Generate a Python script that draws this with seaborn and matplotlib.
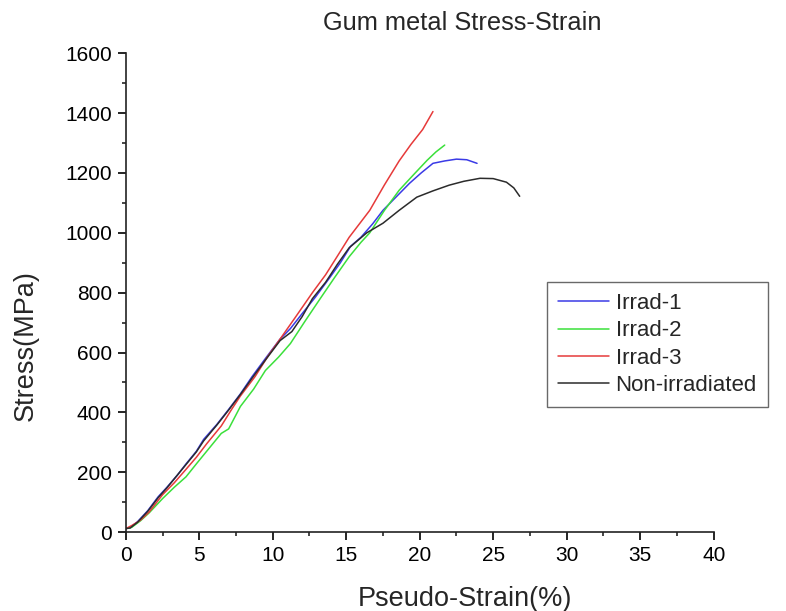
import pandas as pd
import matplotlib.pyplot as plt
import seaborn as sns
from matplotlib.ticker import MultipleLocator

# values
irrad1_strain = [0, 0.3, 0.8, 1.5, 2.2, 2.8, 3.5, 4.1, 4.8, 5.3, 6.2, 7.0, 7.8, 8.6, 9.5, 10.5, 11.2, 12.0,
                 12.9, 13.8, 14.6, 15.3, 16.0, 16.8, 17.5, 18.4, 19.3, 20.1, 20.9, 21.7, 22.5, 23.2, 23.9]
irrad1_stress = [12, 15, 35, 72, 118, 150, 190, 228, 270, 310, 360, 410, 462, 520, 580, 645, 680, 730,
                 785, 845, 900, 955, 985, 1030, 1075, 1120, 1165, 1200, 1232, 1240, 1246, 1244, 1232]

irrad2_strain = [0, 0.4, 1.0, 1.6, 2.5, 3.3, 4.1, 4.8, 5.5, 6.5, 7.0, 7.8, 8.7, 9.5, 10.4, 11.2, 12.2,
                 13.2, 14.2, 15.2, 16.0, 16.6, 17.6, 18.6, 19.6, 20.5, 21.1, 21.7]
irrad2_stress = [12, 16, 38, 65, 112, 150, 185, 228, 270, 330, 345, 420, 478, 540, 585, 630, 705,
                 778, 850, 920, 968, 1000, 1075, 1142, 1195, 1242, 1270, 1293]

irrad3_strain = [0, 0.4, 1.0, 1.6, 2.5, 3.3, 4.1, 4.8, 5.5, 6.5, 7.2, 7.8, 8.8, 9.7, 10.5, 11.5, 12.7,
                 13.6, 14.5, 15.2, 15.9, 16.6, 17.6, 18.6, 19.4, 20.2, 20.9]
irrad3_stress = [12, 22, 40, 68, 125, 165, 210, 250, 295, 355, 410, 455, 520, 590, 645, 715, 800,
                 860, 930, 985, 1030, 1075, 1160, 1240, 1295, 1345, 1405]

nonirr_strain = [0, 0.3, 0.8, 1.5, 2.2, 2.8, 3.5, 4.1, 4.8, 5.3, 6.2, 7.0, 7.8, 8.6, 9.5, 10.5, 11.3,
                 12.0, 12.7, 13.6, 14.4, 15.2, 15.8, 16.4, 17.5, 18.6, 19.8, 20.9, 22.0, 23.0, 24.1,
                 25.0, 25.9, 26.4, 26.8]
nonirr_stress = [12, 14, 33, 70, 115, 148, 190, 226, 268, 305, 358, 408, 460, 515, 575, 640, 670,
                 720, 780, 835, 895, 950, 975, 1000, 1032, 1075, 1119, 1140, 1159, 1172, 1182,
                 1181, 1169, 1150, 1122]

labels = ["Irrad-1", "Irrad-2", "Irrad-3", "Non-irradiated"]
colors = ["#3a3ae6", "#3be03b", "#e63a3a", "#2b2b2b"]

frames = []
for name, xs, ys in zip(labels,
                        [irrad1_strain, irrad2_strain, irrad3_strain, nonirr_strain],
                        [irrad1_stress, irrad2_stress, irrad3_stress, nonirr_stress]):
    frames.append(pd.DataFrame({"strain": xs, "stress": ys, "sample": name}))
df = pd.concat(frames, ignore_index=True)

sns.set_style("ticks")
plt.rcParams["font.family"] = ["Liberation Sans", "DejaVu Sans"]

fig = plt.figure(figsize=(7.86, 6.11), dpi=100)
ax = fig.add_axes([0.160, 0.129, 0.748, 0.784])

sns.lineplot(data=df, x="strain", y="stress", hue="sample", hue_order=labels,
             palette=colors, estimator=None, sort=False, linewidth=1.1, ax=ax)

ax.set_xlim(0, 40)
ax.set_ylim(0, 1600)
ax.xaxis.set_major_locator(MultipleLocator(5))
ax.xaxis.set_minor_locator(MultipleLocator(2.5))
ax.yaxis.set_major_locator(MultipleLocator(200))
ax.yaxis.set_minor_locator(MultipleLocator(100))
ax.tick_params(which="major", length=6, width=1.2, labelsize=15, colors="black",
               direction="out", pad=4)
ax.tick_params(which="minor", length=3, width=1.2, direction="out")
for side in ["top", "right"]:
    ax.spines[side].set_visible(False)
for side in ["left", "bottom"]:
    ax.spines[side].set_linewidth(1.2)
    ax.spines[side].set_color("#222222")

ax.set_xlabel("Pseudo-Strain(%)", fontsize=19.5)
ax.set_ylabel("Stress(MPa)", fontsize=19.5)
ax.xaxis.set_label_coords(0.577, -0.112)
ax.yaxis.set_label_coords(-0.148, 0.39)

fig.text(0.588, 0.963, "Gum metal Stress-Strain", fontsize=18.3, ha="center", va="center")

leg = ax.legend(loc="upper left", bbox_to_anchor=(0.716, 0.522), fontsize=16,
                frameon=True, fancybox=False, edgecolor="#444444", handlelength=2.3,
                borderpad=0.5, labelspacing=0.28, handletextpad=0.3, borderaxespad=0)
leg.get_frame().set_linewidth(1.0)

fig.savefig("out.png", dpi=100)
